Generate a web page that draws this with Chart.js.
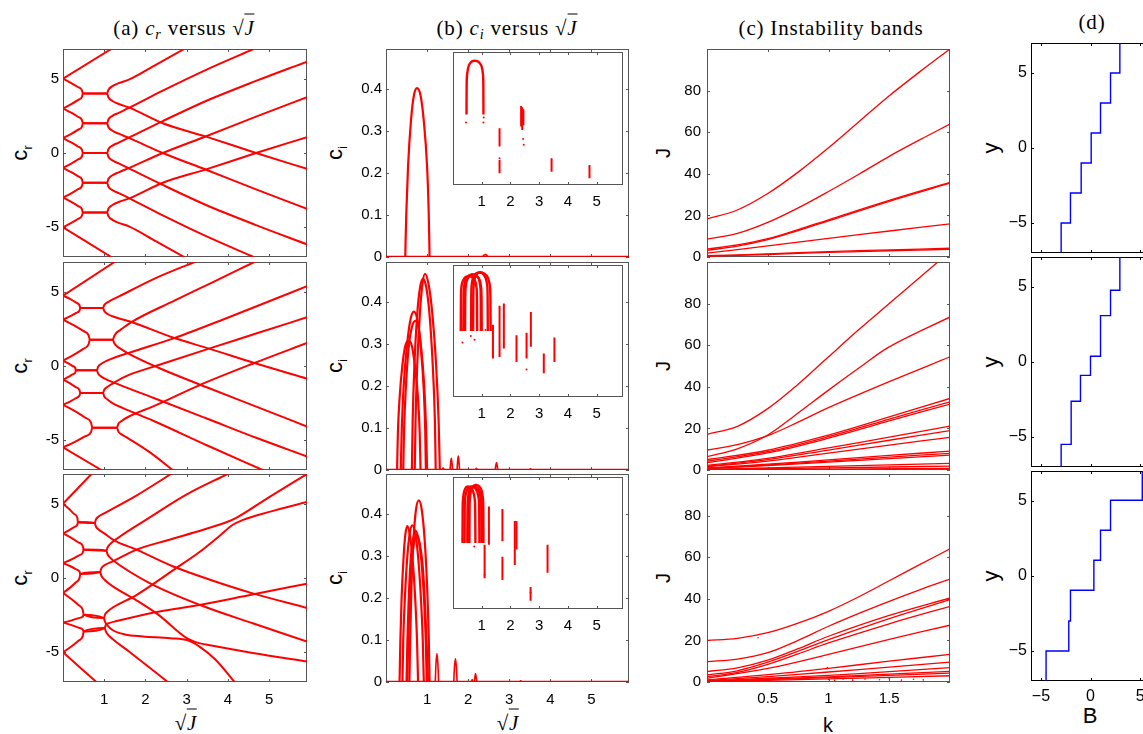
<!DOCTYPE html>
<html>
<head>
<meta charset="utf-8">
<script src="https://cdn.jsdelivr.net/npm/chart.js@4.4.1/dist/chart.umd.min.js"></script>
<style>
  html, body { margin: 0; padding: 0; background: #fff; }
  #wrap { position: relative; width: 1143px; height: 734px; overflow: hidden; background: #fff; }
  canvas { position: absolute; }
  .t { position: absolute; white-space: nowrap; transform: translate(-50%, -50%);
       font-family: "Liberation Serif", "Times New Roman", serif; font-size: 21px; letter-spacing: 0.8px; line-height: 1; color: #000; }
  .yl { position: absolute; white-space: nowrap; transform: translate(-50%, -50%) rotate(-90deg);
        font-family: "Liberation Sans", Arial, sans-serif; font-size: 20px; line-height: 1; color: #000; }
  .xl { position: absolute; white-space: nowrap; transform: translate(-50%, -50%);
        font-family: "Liberation Sans", Arial, sans-serif; font-size: 20px; line-height: 1; color: #000; }
  .ov { border-top: 1px solid #000; padding-top: 1px; }
  sub { font-size: 0.68em; vertical-align: -0.35em; line-height: 0; }
</style>
</head>
<body>
<div id="wrap">
  <div class="t" style="left:184px;top:28px">(a) <i>c<sub>r</sub></i> versus √<span class="ov"><i>J</i></span></div>
  <div class="t" style="left:507px;top:28px">(b) <i>c<sub>i</sub></i> versus √<span class="ov"><i>J</i></span></div>
  <div class="t" style="left:831px;top:28px">(c) Instability bands</div>
  <div class="t" style="left:1092px;top:22px">(d)</div>

  <div class="yl" style="left:20px;top:153px"><span style="font-size:22px">c</span><sub>r</sub></div>
  <div class="yl" style="left:20px;top:366px"><span style="font-size:22px">c</span><sub>r</sub></div>
  <div class="yl" style="left:20px;top:578px"><span style="font-size:22px">c</span><sub>r</sub></div>
  <div class="yl" style="left:335px;top:153px"><span style="font-size:22px">c</span><sub>i</sub></div>
  <div class="yl" style="left:335px;top:366px"><span style="font-size:22px">c</span><sub>i</sub></div>
  <div class="yl" style="left:335px;top:578px"><span style="font-size:22px">c</span><sub>i</sub></div>
  <div class="yl" style="left:663px;top:153px">J</div>
  <div class="yl" style="left:663px;top:366px">J</div>
  <div class="yl" style="left:663px;top:578px">J</div>
  <div class="yl" style="left:991px;top:148px;font-size:22px">y</div>
  <div class="yl" style="left:991px;top:362px;font-size:22px">y</div>
  <div class="yl" style="left:991px;top:576px;font-size:22px">y</div>

  <div class="t" style="left:186px;top:723px">√<span class="ov"><i>J</i></span></div>
  <div class="t" style="left:508px;top:723px">√<span class="ov"><i>J</i></span></div>
  <div class="xl" style="left:828px;top:725px">k</div>
  <div class="xl" style="left:1090px;top:716px;font-size:22px">B</div>
</div>

<script>
// axis ranges and tick values
const sqrtJMax = 5.916;
const sqrtJTicks = [1, 2, 3, 4, 5];
const crTicks = [-5, 0, 5];
const ciTicks = [0, 0.1, 0.2, 0.3, 0.4];
const kTicks = [0.5, 1, 1.5];
const jTicks = [0, 20, 40, 60, 80];
const bTicks = [-5, 0, 5];
const yTicks = [-5, 0, 5];

// (a) c_r versus sqrt(J), one list of curves per row, points are [sqrtJ, c_r]
const crRow1 = [
  [[0,5],[1.17,7]],
  [[0,5],[0.2,4.71],[0.36,4.44],[0.46,4.22],[0.48,4],[1.07,4],[1.1,4.25],[1.2,4.5],[1.35,4.7],[1.61,4.95],[2.26,5.95],[2.94,7]],
  [[0,3],[0.2,3.29],[0.36,3.56],[0.46,3.78],[0.48,4],[1.07,4],[1.1,3.75],[1.2,3.5],[1.35,3.3],[1.61,3.05],[2.42,2.0],[3.47,1.1],[4.68,0],[5.916,-1.07]],
  [[0,3],[0.2,2.71],[0.36,2.44],[0.46,2.22],[0.48,2],[1.07,2],[1.1,2.25],[1.2,2.5],[1.35,2.7],[1.61,3.05],[2.42,4.2],[3.47,5.6],[4.62,7]],
  [[0,1],[0.2,1.29],[0.36,1.56],[0.46,1.78],[0.48,2],[1.07,2],[1.1,1.75],[1.2,1.5],[1.35,1.3],[1.61,1.0],[2.42,0],[3.47,-1.13],[4.68,-2.45],[5.916,-3.76]],
  [[0,1],[0.2,0.71],[0.36,0.44],[0.46,0.22],[0.48,0],[1.07,0],[1.1,0.25],[1.2,0.5],[1.35,0.7],[1.61,1.05],[2.42,2.15],[3.47,3.5],[4.68,4.85],[5.916,6.15]],
  [[0,-1],[0.2,-0.71],[0.36,-0.44],[0.46,-0.22],[0.48,0],[1.07,0],[1.1,-0.25],[1.2,-0.5],[1.35,-0.7],[1.61,-1.05],[2.42,-2.15],[3.47,-3.5],[4.68,-4.85],[5.916,-6.15]],
  [[0,-1],[0.2,-1.29],[0.36,-1.56],[0.46,-1.78],[0.48,-2],[1.07,-2],[1.1,-1.75],[1.2,-1.5],[1.35,-1.3],[1.61,-1.0],[2.42,0],[3.47,1.13],[4.68,2.45],[5.916,3.76]],
  [[0,-3],[0.2,-2.71],[0.36,-2.44],[0.46,-2.22],[0.48,-2],[1.07,-2],[1.1,-2.25],[1.2,-2.5],[1.35,-2.7],[1.61,-3.05],[2.42,-4.2],[3.47,-5.6],[4.62,-7]],
  [[0,-3],[0.2,-3.29],[0.36,-3.56],[0.46,-3.78],[0.48,-4],[1.07,-4],[1.1,-3.75],[1.2,-3.5],[1.35,-3.3],[1.61,-3.05],[2.42,-2.0],[3.47,-1.1],[4.68,0],[5.916,1.07]],
  [[0,-5],[0.2,-4.71],[0.36,-4.44],[0.46,-4.22],[0.48,-4],[1.07,-4],[1.1,-4.25],[1.2,-4.5],[1.35,-4.7],[1.61,-4.95],[2.26,-5.95],[2.94,-7]],
  [[0,-5],[1.17,-7]]
];
const crRow2 = [
  [[0,4.74],[1.25,7]],
  [[0,4.74],[0.18,4.5],[0.31,4.28],[0.4,4.09],[0.42,3.91],[0.97,3.91],[1.0,4.1],[1.09,4.3],[1.37,4.7],[2.26,5.93],[3.19,7]],
  [[0,3.12],[0.18,3.35],[0.31,3.56],[0.4,3.74],[0.42,3.91],[0.97,3.91],[1.0,3.7],[1.08,3.5],[1.25,3.3],[1.66,2.96],[2.7,1.88],[3.54,1.17],[4.64,0.2],[5.916,-0.85]],
  [[0,3.12],[0.27,2.73],[0.49,2.36],[0.62,2.07],[0.65,1.77],[1.21,1.77],[1.24,2.0],[1.29,2.22],[1.4,2.45],[1.66,2.96],[2.7,4.4],[3.6,5.6],[4.64,7]],
  [[0,0.36],[0.27,0.77],[0.49,1.15],[0.62,1.46],[0.65,1.77],[1.21,1.77],[1.24,1.55],[1.3,1.35],[1.4,1.15],[1.61,0.8],[2.3,-0.1],[3.5,-1.45],[4.7,-2.75],[5.916,-4.07]],
  [[0,0.36],[0.13,0.17],[0.23,0.0],[0.3,-0.15],[0.31,-0.29],[0.82,-0.29],[0.85,-0.05],[0.93,0.15],[1.1,0.4],[1.61,0.9],[2.7,1.88],[3.9,3.15],[5.916,5.37]],
  [[0,-0.92],[0.13,-0.74],[0.23,-0.57],[0.3,-0.43],[0.31,-0.29],[0.82,-0.29],[0.85,-0.5],[0.92,-0.7],[1.05,-0.9],[1.4,-1.3],[2.2,-2.15],[3.5,-3.55],[4.7,-4.85],[5.916,-6.09]],
  [[0,-0.92],[0.18,-1.18],[0.31,-1.42],[0.4,-1.62],[0.42,-1.82],[0.97,-1.82],[1.0,-1.6],[1.08,-1.4],[1.25,-1.1],[1.6,-0.6],[2.3,0.05],[3.54,1.17],[4.7,2.2],[5.916,3.28]],
  [[0,-2.61],[0.18,-2.38],[0.31,-2.17],[0.4,-1.99],[0.42,-1.82],[0.97,-1.82],[1.0,-2.05],[1.08,-2.25],[1.2,-2.5],[1.6,-3.0],[2.2,-3.7],[3.5,-5.35],[4.84,-7]],
  [[0,-2.61],[0.3,-3.06],[0.53,-3.47],[0.68,-3.81],[0.71,-4.15],[1.31,-4.15],[1.34,-3.9],[1.42,-3.7],[1.6,-3.4],[2.2,-2.7],[3.3,-1.3],[4.64,0.2],[5.916,1.55]],
  [[0,-5.48],[0.3,-5.09],[0.53,-4.74],[0.68,-4.44],[0.71,-4.15],[1.31,-4.15],[1.34,-4.4],[1.42,-4.6],[1.6,-4.9],[2.1,-5.8],[2.66,-7]],
  [[0,-5.48],[0.93,-7]]
];
const crRow3 = [
  [[0,5],[0.69,7]],
  [[0,5],[0.15,4.64],[0.27,4.31],[0.35,4.04],[0.36,3.77],[0.77,3.7],[0.8,3.95],[0.87,4.15],[0.97,4.31],[1.78,5.55],[2.62,7]],
  [[0,3],[0.15,3.22],[0.27,3.43],[0.35,3.6],[0.36,3.77],[0.77,3.7],[0.8,3.45],[0.87,3.25],[1.0,3.0],[1.25,2.51],[1.78,1.91],[2.66,0.79],[3.6,-0.15],[4.56,-1.0],[5.916,-2.02]],
  [[0,3],[0.21,2.68],[0.375,2.39],[0.48,2.15],[0.5,1.91],[1.05,1.84],[1.08,2.05],[1.13,2.25],[1.33,2.69],[2.02,3.93],[2.99,5.61],[3.99,7]],
  [[0,1],[0.21,1.26],[0.375,1.51],[0.48,1.71],[0.5,1.91],[1.05,1.84],[1.08,1.6],[1.13,1.4],[1.21,1.2],[2.1,-0.34],[3.31,-1.8],[4.6,-3.05],[5.916,-4.27]],
  [[0,1],[0.18,0.79],[0.315,0.59],[0.4,0.43],[0.42,0.27],[0.9,0.4],[0.93,0.65],[1.0,0.85],[1.21,1.12],[1.78,1.91],[2.58,2.58],[3.4,3.25],[3.96,3.75],[4.2,4.05],[5.0,5.45],[5.916,7]],
  [[0,-1],[0.18,-0.63],[0.315,-0.29],[0.4,-0.01],[0.42,0.27],[0.9,0.4],[0.93,0.15],[1.0,-0.1],[1.2,-0.55],[1.78,-1.5],[2.3,-2.45],[3.0,-4.05],[3.2,-4.3],[3.6,-4.55],[4.6,-5.05],[5.916,-5.62]],
  [[0,-1],[0.21,-1.43],[0.375,-1.82],[0.48,-2.15],[0.5,-2.47],[0.99,-2.7],[1.02,-2.45],[1.08,-2.25],[1.2,-2.0],[1.78,-1.15],[2.71,0.6],[3.31,1.75],[3.8,2.85],[4.1,3.55],[4.35,3.9],[5.0,4.45],[5.916,5.12]],
  [[0,-3],[0.21,-2.85],[0.375,-2.7],[0.48,-2.59],[0.5,-2.47],[0.99,-2.7],[1.02,-2.95],[1.08,-3.2],[1.2,-3.5],[1.5,-3.8],[1.94,-3.93],[2.6,-4.05],[3.03,-4.2],[3.3,-4.6],[3.7,-5.5],[4.16,-7]],
  [[0,-3],[0.21,-3.17],[0.375,-3.34],[0.48,-3.47],[0.5,-3.6],[1.01,-3.37],[1.04,-3.15],[1.1,-3.05],[1.3,-2.9],[2.34,-2.25],[3.31,-1.82],[4.56,-1.13],[5.916,-0.38]],
  [[0,-5],[0.21,-4.59],[0.375,-4.22],[0.48,-3.91],[0.5,-3.6],[1.01,-3.37],[1.04,-3.6],[1.1,-3.85],[1.2,-4.1],[1.6,-4.95],[2.54,-7]],
  [[0,-5],[0.81,-7]]
];

// (b) c_i versus sqrt(J): arches [sqrtJ, c_i], small bumps, inset streaks [sqrtJ, top, bottom] and stray dots
const ciArchRow1 = [
  [[0.47,0.0015],[0.475,0.03],[0.495,0.105],[0.537,0.216],[0.61,0.327],[0.68,0.385],[0.755,0.402],[0.84,0.385],[0.917,0.327],[1.0,0.216],[1.04,0.105],[1.056,0.03],[1.06,0.0015]]
];
const ciBumpRow1 = [
  [[2.36,0.0015],[2.39,0.005],[2.42,0.006],[2.45,0.0045],[2.47,0.0015]]
];
const insetStreakRow1 = [[1.62,3.6e-4,5.4e-5],[1.62,1.35e-5,3.4e-6],[2.37,3.7e-3,4.4e-4],[2.41,3.2e-3,3e-4],[2.45,2.6e-3,5e-4],[3.43,1.6e-5,4e-6],[4.75,8e-6,2e-6]];
const insetDotRow1 = [[0.45,6.6e-4],[1.06,6.6e-4],[1.07,1.1e-3],[2.44,1.2e-4],[2.46,6.5e-5],[1.62,1.6e-5]];

const ciArchRow2 = [
  [[0.27,0.001],[0.276,0.03],[0.29,0.09],[0.33,0.17],[0.4,0.25],[0.47,0.295],[0.55,0.308],[0.63,0.295],[0.7,0.25],[0.78,0.17],[0.82,0.09],[0.835,0.03],[0.84,0.001]],
  [[0.36,0.001],[0.367,0.03],[0.385,0.1],[0.43,0.2],[0.52,0.305],[0.6,0.36],[0.68,0.377],[0.76,0.36],[0.84,0.305],[0.93,0.2],[0.975,0.1],[0.993,0.03],[1.0,0.001]],
  [[0.42,0.001],[0.426,0.03],[0.44,0.095],[0.48,0.19],[0.55,0.29],[0.63,0.34],[0.72,0.355],[0.79,0.34],[0.85,0.29],[0.92,0.19],[0.955,0.095],[0.966,0.03],[0.97,0.001]],
  [[0.63,0.001],[0.636,0.035],[0.65,0.12],[0.69,0.245],[0.76,0.37],[0.83,0.435],[0.9,0.455],[0.98,0.435],[1.06,0.37],[1.14,0.245],[1.19,0.12],[1.205,0.035],[1.21,0.001]],
  [[0.7,0.001],[0.706,0.035],[0.72,0.12],[0.76,0.25],[0.83,0.38],[0.89,0.445],[0.95,0.467],[1.03,0.445],[1.12,0.38],[1.22,0.25],[1.28,0.12],[1.302,0.035],[1.31,0.001]]
];
const ciBumpRow2 = [
  [[1.37,0.001],[1.39,0.005],[1.41,0.001]],
  [[1.56,0.001],[1.575,0.018],[1.59,0.028],[1.605,0.018],[1.62,0.001]],
  [[1.73,0.001],[1.745,0.022],[1.76,0.033],[1.775,0.022],[1.79,0.001]],
  [[2.18,0.001],[2.2,0.004],[2.22,0.001]],
  [[2.66,0.001],[2.675,0.012],[2.69,0.018],[2.705,0.012],[2.72,0.001]],
  [[3.5,0.001],[3.52,0.003],[3.54,0.001]]
];
const insetStreakRow2 = [[1.39,1.9e-3,5.6e-5],[1.62,1.4e-2,6.6e-5],[1.77,1.8e-2,1.6e-4],[2.21,6.4e-4,3.9e-5],[2.56,8.3e-4,5.6e-5],[2.71,7.4e-3,1.9e-4],[3.16,9.5e-5,1.2e-5],[3.53,5.1e-4,3.9e-5]];
const insetDotRow2 = [[0.3,1.2e-3],[0.33,3e-4],[0.62,6e-4],[0.75,4e-4],[1.13,1.1e-3],[2.56,1.8e-5]];

const ciArchRow3 = [
  [[0.33,0.001],[0.336,0.03],[0.35,0.1],[0.38,0.2],[0.43,0.3],[0.47,0.35],[0.52,0.371],[0.58,0.35],[0.64,0.3],[0.71,0.2],[0.755,0.1],[0.773,0.03],[0.78,0.001]],
  [[0.4,0.001],[0.406,0.03],[0.42,0.1],[0.46,0.2],[0.52,0.3],[0.58,0.355],[0.64,0.373],[0.71,0.355],[0.78,0.3],[0.85,0.2],[0.895,0.1],[0.913,0.03],[0.92,0.001]],
  [[0.5,0.001],[0.506,0.03],[0.52,0.095],[0.55,0.19],[0.6,0.29],[0.66,0.34],[0.72,0.36],[0.79,0.34],[0.86,0.29],[0.93,0.19],[0.97,0.095],[0.985,0.03],[0.99,0.001]],
  [[0.52,0.001],[0.526,0.03],[0.54,0.09],[0.57,0.185],[0.62,0.28],[0.68,0.33],[0.75,0.35],[0.82,0.33],[0.89,0.28],[0.95,0.185],[0.99,0.09],[1.013,0.03],[1.02,0.001]],
  [[0.57,0.001],[0.576,0.035],[0.59,0.11],[0.62,0.23],[0.67,0.34],[0.73,0.41],[0.8,0.432],[0.87,0.41],[0.94,0.34],[1.0,0.23],[1.04,0.11],[1.055,0.035],[1.06,0.001]]
];
const ciBumpRow3 = [
  [[1.2,0.001],[1.215,0.04],[1.24,0.068],[1.265,0.04],[1.28,0.001]],
  [[1.65,0.001],[1.665,0.033],[1.69,0.055],[1.715,0.033],[1.73,0.001]],
  [[2.08,0.001],[2.1,0.006],[2.12,0.001]],
  [[2.15,0.001],[2.165,0.012],[2.18,0.02],[2.195,0.012],[2.21,0.001]],
  [[3.26,0.001],[3.28,0.003],[3.3,0.001]]
];
const insetStreakRow3 = [[1.1,8.3e-4,2.5e-5],[1.25,4.6e-2,8.3e-4],[1.72,3.5e-2,1.2e-3],[1.72,2.4e-4,2.1e-5],[2.15,1e-2,1e-4],[2.21,1e-2,5e-4],[2.7,1e-5,2.4e-6],[3.29,8.3e-4,4.5e-5]];
const insetDotRow3 = [[0.33,1.5e-3],[0.74,6.9e-4],[1.1,3.6e-5],[2.7,5.5e-6]];

// (c) instability band boundaries, points are [k, J]
const bandRow1 = [
  [[0,18.3],[0.25,22.6],[0.5,30.5],[0.75,40.8],[1,52.5],[1.25,65],[1.5,77.5],[1.75,89],[2,100]],
  [[0,8.6],[0.25,11.3],[0.5,16.6],[0.75,23.6],[1,31.5],[1.25,39.8],[1.5,48.4],[1.75,56.3],[2,63.9]],
  [[0,3.8],[0.25,5.8],[0.5,8.8],[0.75,13.2],[1,17.9],[1.5,27.2],[2,35.9]],
  [[0,3.2],[0.25,5.2],[0.5,8.3],[0.75,12.7],[1,17.4],[1.5,26.8],[2,35.5]],
  [[0,1.9],[0.5,5.3],[1,9.0],[1.5,12.5],[2,15.9]],
  [[0,0.6],[0.5,1.5],[1,2.6],[1.5,3.4],[2,4.2]],
  [[0,0.3],[0.5,1.2],[1,2.2],[1.5,3.0],[2,3.7]]
];
const bandRow2 = [
  [[0,17.1],[0.25,21],[0.5,29.5],[0.75,41.2],[1,54.4],[1.25,67.5],[1.5,80],[1.9,100]],
  [[0,6.4],[0.25,10.2],[0.5,16.8],[0.75,27.4],[1,38.4],[1.25,49],[1.5,59.2],[2,73.6]],
  [[0,9.6],[0.25,12.2],[0.5,16.5],[0.75,23],[1,30],[1.5,42.5],[2,54.4]],
  [[0,5.0],[0.5,9.5],[1,16.8],[1.5,25.5],[2,34.4]],
  [[0,4.2],[0.5,8.8],[1,16.0],[1.5,24.5],[2,32.8]],
  [[0,3.5],[0.5,8.2],[1,15.3],[1.5,23.6],[2,31.7]],
  [[0,2.2],[0.5,5.6],[1,10.6],[1.5,15.8],[2,21.1]],
  [[0,1.8],[0.5,5.0],[1,9.6],[1.5,14.3],[2,18.9]],
  [[0,1.5],[0.5,4.3],[1,8.1],[1.5,12],[2,15.7]],
  [[0,1.0],[0.5,2.8],[1,4.9],[1.5,7],[2,9.1]],
  [[0,0.8],[0.5,2.4],[1,4.3],[1.5,6.2],[2,8.0]],
  [[0,0.6],[0.5,2.1],[1,3.8],[1.5,5.5],[2,7.2]],
  [[0,0.3],[1,1.7],[2,3.2]],
  [[0,0.2],[1,1.0],[2,1.9]],
  [[0,0.1],[1,0.45],[2,0.8]]
];
const bandRow3 = [
  [[0,20],[0.25,21],[0.5,23.7],[0.75,28.3],[1,34],[1.25,41],[1.5,48.7],[1.75,56.4],[2,64]],
  [[0,9.8],[0.25,11],[0.5,14.1],[0.75,20],[1,26.8],[1.25,33],[1.5,38.8],[1.75,44.3],[2,49.5]],
  [[0,5.0],[0.25,6.8],[0.5,10.5],[0.75,16],[1,22],[1.5,32],[2,40.4]],
  [[0,3.4],[0.25,5.4],[0.5,9.5],[0.75,14.8],[1,20.4],[1.5,30.5],[2,39.6]],
  [[0,2.6],[0.25,4.6],[0.5,8.5],[0.75,13.5],[1,18.8],[1.5,28],[2,36.4]],
  [[0,1.7],[0.5,6.5],[1,13.3],[1.5,20.5],[2,27.3]],
  [[0,1.0],[0.5,3.5],[1,6.6],[1.5,10],[2,13.3]],
  [[0,0.7],[0.5,2.6],[1,4.8],[1.5,7.2],[2,9.6]],
  [[0,0.5],[0.5,1.8],[1,3.2],[1.5,5],[2,6.9]],
  [[0,0.3],[1,2.5],[2,5.1]],
  [[0,0.2],[1,2.1],[2,4.3]],
  [[0,0.1],[1,1.5],[2,3.0]]
];
const bandDotRow3 = [[0.42,21.3],[0.99,6.9],[1.0,1.2],[1.05,0.8],[1.12,1.5],[1.2,0.9],[1.3,1.4],[1.42,1.1],[1.5,1.6],[1.6,0.9],[1.7,1.3],[1.78,1.0]];

// (d) staircase profiles, points are [B, y]
const stairRow1 = [[-2.96,-7],[-2.96,-5],[-2.02,-5],[-2.02,-3],[-0.94,-3],[-0.94,-1],[0.07,-1],[0.07,1],[1.01,1],[1.01,3],[2.02,3],[2.02,5],[2.96,5],[2.96,7]];
const stairRow2 = [[-2.96,-7],[-2.96,-5.49],[-1.95,-5.49],[-1.95,-2.62],[-1.01,-2.62],[-1.01,-0.89],[0,-0.89],[0,0.38],[1.01,0.38],[1.01,3.09],[2.02,3.09],[2.02,4.78],[2.96,4.78],[2.96,7]];
const stairRow3 = [[-4.48,-7],[-4.48,-5],[-2.19,-5],[-2.19,-3],[-2.02,-3],[-2.02,-0.95],[0.34,-0.95],[0.34,1.05],[1.01,1.05],[1.01,3.05],[2.02,3.05],[2.02,5.05],[5.22,5.05],[5.22,7]];

// ---------- drawing ----------
const RED = '#ff0000';
const BLUE = '#0000ff';
const wrap = document.getElementById('wrap');
const rowTop = [49, 262, 474];
const rowH = 208;
const dTop = [43, 257, 471];
const dH = 210;
const insetTop = [52, 265, 477];

// box with inward tick marks on all four sides (MATLAB look)
const framePlugin = {
  id: 'frame',
  beforeDatasetsDraw(chart, args, o) {
    const { ctx, chartArea: a, scales } = chart;
    ctx.save();
    if (o.bg) {
      ctx.fillStyle = o.bg;
      ctx.fillRect(a.left, a.top, a.right - a.left, a.bottom - a.top);
    }
    ctx.strokeStyle = o.color;
    ctx.lineWidth = 1;
    ctx.strokeRect(a.left + 0.5, a.top + 0.5, a.right - a.left - 1, a.bottom - a.top - 1);
    ctx.beginPath();
    scales.x.ticks.forEach(t => {
      const p = Math.round(scales.x.getPixelForValue(t.value)) + 0.5;
      ctx.moveTo(p, a.bottom); ctx.lineTo(p, a.bottom - o.len);
      ctx.moveTo(p, a.top); ctx.lineTo(p, a.top + o.len);
    });
    if (o.yTicks) {
      scales.y.ticks.forEach(t => {
        const p = Math.round(scales.y.getPixelForValue(t.value)) + 0.5;
        ctx.moveTo(a.left, p); ctx.lineTo(a.left + o.len, p);
        ctx.moveTo(a.right, p); ctx.lineTo(a.right - o.len, p);
      });
    }
    ctx.stroke();
    ctx.restore();
  }
};

function curve(pts, w, col) {
  return { data: pts.map(p => ({ x: p[0], y: p[1] })), showLine: true, pointRadius: 0,
           borderColor: col, borderWidth: w, cubicInterpolationMode: 'monotone', fill: false };
}
function smooth(pts, w, col) {
  return { data: pts.map(p => ({ x: p[0], y: p[1] })), showLine: true, pointRadius: 0,
           borderColor: col, borderWidth: w, tension: 0.35, fill: false };
}
function straight(pts, w, col) {
  return { data: pts.map(p => ({ x: p[0], y: p[1] })), showLine: true, pointRadius: 0,
           borderColor: col, borderWidth: w, tension: 0, fill: false };
}
function dots(pts, r, col) {
  return { data: pts.map(p => ({ x: p[0], y: p[1] })), showLine: false, pointRadius: r,
           pointBackgroundColor: col, pointBorderWidth: 0 };
}

function addChart(rect, o) {
  const padT = 12, padR = 8;
  const cv = document.createElement('canvas');
  cv.width = o.yW + rect.w + padR;
  cv.height = padT + rect.h + o.xH;
  cv.style.left = (rect.left - o.yW) + 'px';
  cv.style.top = (rect.top - padT) + 'px';
  wrap.appendChild(cv);
  const font = { family: '"Liberation Sans", Arial, sans-serif', size: o.fontSize || 15 };
  const fmt = o.fmt || (v => String(v));
  new Chart(cv, {
    type: 'scatter',
    data: { datasets: o.datasets },
    options: {
      responsive: false, animation: false, events: [],
      layout: { padding: { top: padT, right: padR, left: 0, bottom: 0 } },
      plugins: {
        legend: { display: false }, tooltip: { enabled: false },
        frame: { color: o.frameColor, len: 3, yTicks: o.yTickMarks !== false, bg: o.bg || null }
      },
      scales: {
        x: {
          type: 'linear', position: 'bottom', min: o.x.min, max: o.x.max,
          grid: { display: false, drawTicks: false }, border: { display: false },
          afterBuildTicks: s => { s.ticks = o.x.ticks.map(v => ({ value: v })); },
          afterFit: s => { s.height = o.xH; s.paddingLeft = 0; s.paddingRight = 0; },
          ticks: { display: o.x.labels, autoSkip: false, maxRotation: 0, minRotation: 0,
                   padding: o.x.pad || 0, font: font, color: '#000', callback: fmt }
        },
        y: {
          type: o.y.type || 'linear', position: 'left', min: o.y.min, max: o.y.max,
          grid: { display: false, drawTicks: false }, border: { display: false },
          afterBuildTicks: s => { s.ticks = o.y.ticks.map(v => ({ value: v })); },
          afterFit: s => { s.width = o.yW; s.paddingTop = 0; s.paddingBottom = 0; },
          ticks: { display: o.y.labels, autoSkip: false, padding: o.y.pad || 0,
                   font: font, color: '#000', callback: fmt }
        }
      }
    },
    plugins: [framePlugin]
  });
}

// column (a)
[crRow1, crRow2, crRow3].forEach((curves, i) => {
  addChart({ left: 63, top: rowTop[i], w: 244, h: rowH }, {
    yW: 46, xH: i === 2 ? 40 : 14, frameColor: '#555',
    x: { min: 0, max: sqrtJMax, ticks: sqrtJTicks, labels: i === 2, pad: 9 },
    y: { min: -7, max: 7, ticks: crTicks, labels: true, pad: 4 },
    datasets: curves.map(c => curve(c, 2, RED))
  });
});

// column (b) with log-scaled insets
const archRows = [ciArchRow1, ciArchRow2, ciArchRow3];
const bumpRows = [ciBumpRow1, ciBumpRow2, ciBumpRow3];
const streakRows = [insetStreakRow1, insetStreakRow2, insetStreakRow3];
const dotRows = [insetDotRow1, insetDotRow2, insetDotRow3];
[0, 1, 2].forEach(i => {
  const sets = archRows[i].map(c => curve(c, 2.2, RED))
    .concat(bumpRows[i].map(c => curve(c, 1.6, RED)))
    .concat([straight([[0, 0], [sqrtJMax, 0]], 2.5, '#e00000')]);
  addChart({ left: 386, top: rowTop[i], w: 243, h: rowH }, {
    yW: 46, xH: i === 2 ? 40 : 14, frameColor: '#555',
    x: { min: 0, max: sqrtJMax, ticks: sqrtJTicks, labels: i === 2, pad: 9 },
    y: { min: 0, max: 0.495, ticks: ciTicks, labels: true, pad: 4 },
    datasets: sets
  });
  const insetSets = archRows[i].map(c => curve(c, 2.4, RED))
    .concat(streakRows[i].map(s => straight([[s[0], s[1]], [s[0], s[2]]], 2, RED)))
    .concat([dots(dotRows[i], 1, RED)]);
  addChart({ left: 453, top: insetTop[i], w: 170, h: i === 0 ? 133 : 132 }, {
    yW: 4, xH: 30, frameColor: '#555', bg: '#fff', yTickMarks: false,
    x: { min: 0, max: sqrtJMax, ticks: sqrtJTicks, labels: true, pad: 8 },
    y: { type: 'logarithmic', min: 1e-6, max: 1, ticks: [1e-3], labels: false },
    datasets: insetSets
  });
});

// column (c)
[bandRow1, bandRow2, bandRow3].forEach((bands, i) => {
  const sets = bands.map(c => smooth(c, 1.3, RED));
  if (i === 2) sets.push(dots(bandDotRow3, 0.8, RED));
  addChart({ left: 707, top: rowTop[i], w: 243, h: rowH }, {
    yW: 46, xH: i === 2 ? 40 : 14, frameColor: '#555',
    x: { min: 0, max: 2, ticks: kTicks, labels: i === 2, pad: 8 },
    y: { min: 0, max: 100, ticks: jTicks, labels: true, pad: 6 },
    datasets: sets
  });
});

// column (d)
[stairRow1, stairRow2, stairRow3].forEach((stair, i) => {
  addChart({ left: 1031, top: dTop[i], w: 119, h: dH }, {
    yW: 46, xH: i === 2 ? 40 : 14, frameColor: '#000', fontSize: 16,
    fmt: v => String(v).replace('-', '\u2212'),
    x: { min: -6, max: 6, ticks: bTicks, labels: i === 2, pad: 6 },
    y: { min: -7, max: 7, ticks: yTicks, labels: true, pad: 4 },
    datasets: [straight(stair, 1.4, BLUE)]
  });
});
</script>
</body>
</html>
